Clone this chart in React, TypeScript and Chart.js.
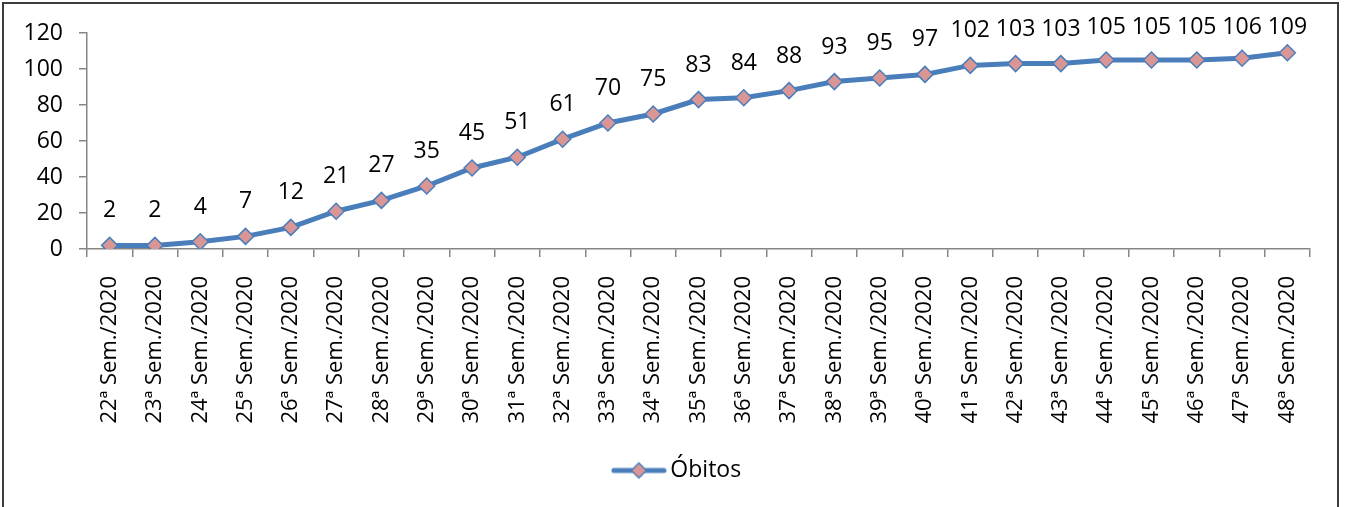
import React, { useEffect, useRef } from "react";
import { Chart, registerables } from "chart.js";

Chart.register(...registerables);

const categories: string[] = [
  "22ª Sem./2020", "23ª Sem./2020", "24ª Sem./2020", "25ª Sem./2020", "26ª Sem./2020",
  "27ª Sem./2020", "28ª Sem./2020", "29ª Sem./2020", "30ª Sem./2020", "31ª Sem./2020",
  "32ª Sem./2020", "33ª Sem./2020", "34ª Sem./2020", "35ª Sem./2020", "36ª Sem./2020",
  "37ª Sem./2020", "38ª Sem./2020", "39ª Sem./2020", "40ª Sem./2020", "41ª Sem./2020",
  "42ª Sem./2020", "43ª Sem./2020", "44ª Sem./2020", "45ª Sem./2020", "46ª Sem./2020",
  "47ª Sem./2020", "48ª Sem./2020",
];

const obitos: number[] = [
  2, 2, 4, 7, 12, 21, 27, 35, 45, 51, 61, 70, 75, 83, 84, 88, 93, 95, 97, 102, 103, 103,
  105, 105, 105, 106, 109,
];

const seriesName = "Óbitos";
const yMin = 0;
const yMax = 120;
const yStep = 20;

const FONT = "'Open Sans', 'Noto Sans', sans-serif";
const FONT_SIZE = 23;
const X_FONT_SIZE = 22;
const LINE_COLOR = "#4A7EBB";
const MARKER_FILL = "#D99694";
const AXIS_COLOR = "#868686";

function makeLegendIcon(): HTMLCanvasElement {
  const c = document.createElement("canvas");
  c.width = 56;
  c.height = 20;
  const ctx = c.getContext("2d")!;
  ctx.strokeStyle = LINE_COLOR;
  ctx.lineWidth = 5;
  ctx.lineCap = "round";
  ctx.beginPath();
  ctx.moveTo(3, 10);
  ctx.lineTo(53, 10);
  ctx.stroke();
  ctx.beginPath();
  ctx.moveTo(28, 2.5);
  ctx.lineTo(35.5, 10);
  ctx.lineTo(28, 17.5);
  ctx.lineTo(20.5, 10);
  ctx.closePath();
  ctx.fillStyle = MARKER_FILL;
  ctx.fill();
  ctx.lineWidth = 1.5;
  ctx.strokeStyle = LINE_COLOR;
  ctx.stroke();
  return c;
}

const dataLabelPlugin = {
  id: "dataLabelsAbove",
  afterDatasetsDraw(chart: any) {
    const { ctx, chartArea } = chart;
    const meta = chart.getDatasetMeta(0);
    const values = chart.data.datasets[0].data as number[];
    ctx.save();
    ctx.font = `${FONT_SIZE}px ${FONT}`;
    ctx.fillStyle = "#000000";
    ctx.textAlign = "center";
    ctx.textBaseline = "alphabetic";
    meta.data.forEach((pt: any, i: number) => {
      const y = Math.max(pt.y - 28, chartArea.top + 1);
      ctx.fillText(String(values[i]), pt.x, y);
    });
    ctx.restore();
  },
};

// Center the legend under the whole chart box (as the original does) rather than the plot.
const legendShiftPlugin = {
  id: "legendShift",
  afterLayout(chart: any) {
    const l = chart.legend;
    if (l) {
      l.left = 50;
    }
  },
};

export default function App() {
  const canvasRef = useRef<HTMLCanvasElement | null>(null);

  useEffect(() => {
    if (!canvasRef.current) return;
    const icon = makeLegendIcon();
    const chart = new Chart(canvasRef.current, {
      type: "line",
      data: {
        labels: categories,
        datasets: [
          {
            label: seriesName,
            data: obitos,
            borderColor: LINE_COLOR,
            backgroundColor: MARKER_FILL,
            borderWidth: 5,
            pointStyle: "rectRot",
            pointRadius: 8,
            pointHoverRadius: 8,
            pointBackgroundColor: MARKER_FILL,
            pointBorderColor: LINE_COLOR,
            pointBorderWidth: 1.5,
            tension: 0,
          },
        ],
      },
      options: {
        responsive: false,
        animation: false,
        layout: { padding: { top: 33, left: 0, right: 35, bottom: 15 } },
        plugins: {
          legend: {
            position: "bottom",
            labels: {
              usePointStyle: true,
              pointStyle: icon as any,
              pointStyleWidth: 40,
              boxHeight: 20,
              color: "#000000",
              font: { family: FONT, size: FONT_SIZE },
              generateLabels: () => [
                {
                  text: seriesName,
                  pointStyle: icon,
                  fillStyle: MARKER_FILL,
                  strokeStyle: LINE_COLOR,
                  lineWidth: 0,
                  datasetIndex: 0,
                  hidden: false,
                  fontColor: "#000000",
                },
              ],
            },
          },
          tooltip: { enabled: false },
        },
        scales: {
          x: {
            type: "category",
            offset: true,
            grid: {
              offset: true,
              drawOnChartArea: false,
              drawTicks: true,
              tickLength: 8,
              color: AXIS_COLOR,
              lineWidth: 1.5,
            },
            border: { color: AXIS_COLOR, width: 1.5 },
            ticks: {
              minRotation: 90,
              maxRotation: 90,
              autoSkip: false,
              padding: 19,
              color: "#000000",
              font: { family: FONT, size: X_FONT_SIZE },
            },
            afterFit: (scale: any) => {
              scale.height = 200;
            },
          },
          y: {
            min: yMin,
            max: yMax,
            grid: {
              drawOnChartArea: false,
              drawTicks: true,
              tickLength: 8,
              color: AXIS_COLOR,
              lineWidth: 1.5,
            },
            border: { color: AXIS_COLOR, width: 1.5 },
            ticks: {
              stepSize: yStep,
              padding: 16,
              color: "#000000",
              font: { family: FONT, size: FONT_SIZE },
            },
            afterFit: (scale: any) => {
              scale.width = 87;
            },
          },
        },
      },
      plugins: [dataLabelPlugin, legendShiftPlugin],
    });
    return () => chart.destroy();
  }, []);

  return (
    <div
      style={{
        position: "fixed",
        left: 0,
        top: 0,
        width: 1345,
        height: 507,
        overflow: "hidden",
        background: "#ffffff",
      }}
    >
      <div
        style={{
          position: "absolute",
          left: 2,
          top: 2,
          width: 1333,
          height: 520,
          border: "2px solid #3c3c3c",
        }}
      />
      <canvas
        ref={canvasRef}
        width={1345}
        height={507}
        style={{ position: "absolute", left: 0, top: 0, width: 1345, height: 507 }}
      />
    </div>
  );
}
